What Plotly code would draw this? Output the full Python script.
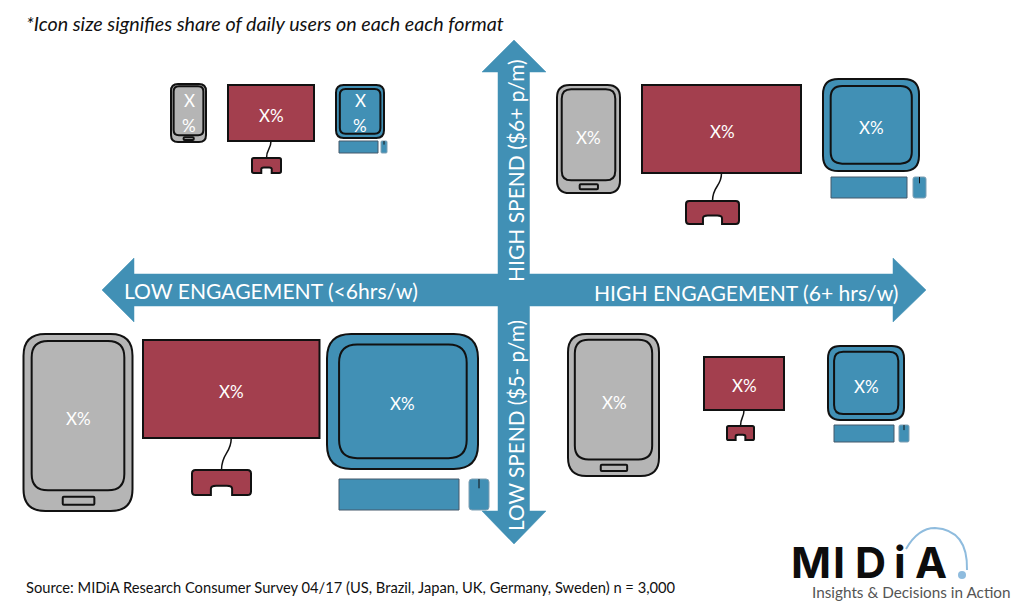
import plotly.graph_objects as go

BLUE = '#4190b5'
RED = '#a33f4e'
GREY = '#b5b5b5'
INK = '#111111'
FONT = 'Lato'

title_text = '*Icon size signifies share of daily users on each each format'
source_text = 'Source: MIDiA Research Consumer Survey 04/17 (US, Brazil, Japan, UK, Germany, Sweden) n = 3,000'
tagline = 'Insights & Decisions in Action'
axis_high_engagement = 'HIGH ENGAGEMENT (6+ hrs/w)'
axis_low_engagement = 'LOW ENGAGEMENT (<6hrs/w)'
axis_high_spend = 'HIGH SPEND ($6+ p/m)'
axis_low_spend = 'LOW SPEND ($5- p/m)'

# icon boxes, page pixels: x0, y0, x1, y1
phones = [(171, 84, 206, 142), (557, 85, 620, 193), (23.5, 334, 132.5, 511), (568, 334, 659, 476)]
tvs = [
    ((228, 85, 314, 141), (252, 158, 281, 173)),
    ((642, 85, 801, 173), (686, 201, 739, 224)),
    ((143, 340, 319.5, 438), (192, 470, 251, 495)),
    ((704, 357, 784, 410), (727, 426, 754, 440)),
]
desktops = [
    ((336, 85, 384, 138), (339, 141, 378, 153), (381, 141, 387, 153)),
    ((823, 79, 919, 171), (831, 177, 907, 198), (913, 177, 926, 198)),
    ((327, 334, 478, 469), (339, 479, 459, 510), (469, 479, 489, 510)),
    ((828, 346, 904, 420), (834, 425, 894, 442), (899, 425, 909, 442)),
]

# X% labels: x, y, text
labels = [
    (189, 100, 'X'), (189, 125, '%'), (271, 115, 'X%'), (360, 100, 'X'), (360, 125, '%'),
    (588, 137, 'X%'), (722, 131, 'X%'), (871, 127, 'X%'),
    (78, 418, 'X%'), (231, 391, 'X%'), (402, 403, 'X%'),
    (614, 402, 'X%'), (744, 385, 'X%'), (866, 386, 'X%'),
]

logo_letters = [('M', 811), ('I', 838.5), ('D', 870), ('i', 899.5), ('A', 931)]

shapes = []


def add_path(path, fill=None, color=INK, width=2):
    shapes.append(dict(type='path', path=path, fillcolor=fill or 'rgba(0,0,0,0)',
                       line=dict(color=color, width=width), layer='above'))


def round_rect(x0, y0, x1, y1, r):
    return (f'M{x0 + r},{y0} L{x1 - r},{y0} Q{x1},{y0} {x1},{y0 + r} L{x1},{y1 - r} '
            f'Q{x1},{y1} {x1 - r},{y1} L{x0 + r},{y1} Q{x0},{y1} {x0},{y1 - r} '
            f'L{x0},{y0 + r} Q{x0},{y0} {x0 + r},{y0} Z')


def draw_phone(box):
    x0, y0, x1, y1 = box
    w, h = x1 - x0, y1 - y0
    add_path(round_rect(x0, y0, x1, y1, w * 0.2), GREY)
    add_path(round_rect(x0 + w * 0.075, y0 + h * 0.04, x1 - w * 0.075, y1 - h * 0.117, w * 0.15), GREY)
    add_path(round_rect(x0 + w * 0.36, y0 + h * 0.92, x0 + w * 0.65, y0 + h * 0.965, 1), GREY)


def draw_tv(screen, stand):
    x0, y0, x1, y1 = screen
    sx0, sy0, sx1, sy1 = stand
    add_path(f'M{x0},{y0} L{x1},{y0} L{x1},{y1} L{x0},{y1} Z', RED)
    # cable from screen to stand
    cx = (x0 + x1) / 2
    sw = sx1 - sx0
    sh = sy1 - sy0
    mid = (sx0 + sx1) / 2
    gap = sy0 - y1
    add_path(f'M{cx},{y1} C{cx},{y1 + gap * 0.5} {mid},{y1 + gap * 0.45} {mid},{sy0}', width=1.5)
    # stand with the notch cut out of its bottom edge
    r = sw * 0.06
    nx0, nx1 = sx0 + sw * 0.32, sx0 + sw * 0.68
    ny = sy0 + sh * 0.63
    nr = sw * 0.09
    add_path(f'M{sx0 + r},{sy0} L{sx1 - r},{sy0} Q{sx1},{sy0} {sx1},{sy0 + r} L{sx1},{sy1 - r} '
             f'Q{sx1},{sy1} {sx1 - r},{sy1} L{nx1},{sy1} L{nx1},{ny + nr * 0.6} Q{nx1},{ny} {nx1 - nr},{ny} '
             f'L{nx0 + nr},{ny} Q{nx0},{ny} {nx0},{ny + nr * 0.6} L{nx0},{sy1} L{sx0 + r},{sy1} '
             f'Q{sx0},{sy1} {sx0},{sy1 - r} L{sx0},{sy0 + r} Q{sx0},{sy0} {sx0 + r},{sy0} Z', RED)


def draw_desktop(outer, keyboard, mouse):
    x0, y0, x1, y1 = outer
    w, h = x1 - x0, y1 - y0
    add_path(round_rect(x0, y0, x1, y1, w * 0.16), BLUE)
    add_path(round_rect(x0 + w * 0.08, y0 + h * 0.077, x1 - w * 0.075, y1 - h * 0.08, w * 0.12), BLUE)
    kx0, ky0, kx1, ky1 = keyboard
    add_path(f'M{kx0},{ky0} L{kx1},{ky0} L{kx1},{ky1} L{kx0},{ky1} Z', BLUE, color='#44596a', width=1)
    mx0, my0, mx1, my1 = mouse
    add_path(round_rect(mx0, my0, mx1, my1, (mx1 - mx0) * 0.15), BLUE, color='#7f9fb3', width=1)
    mc = (mx0 + mx1) / 2
    add_path(f'M{mc},{my0} L{mc},{my0 + (my1 - my0) * 0.3}', width=1)


for box in phones:
    draw_phone(box)
for screen, stand in tvs:
    draw_tv(screen, stand)
for outer, keyboard, mouse in desktops:
    draw_desktop(outer, keyboard, mouse)

# the cross of arrows
add_path('M514,40 L546,72 L529.5,72 L529.5,274 L893,274 L893,258 L926,290 L893,322 L893,306 '
         'L529.5,306 L529.5,511 L546,511 L514,544 L482,511 L498,511 L498,306 L134,306 L134,322 '
         'L102,290 L134,258 L134,274 L498,274 L498,72 L482,72 Z', BLUE, color=BLUE, width=0.5)

# logo arc and dot
add_path('M906,549 Q918,528 935,528 Q968,530 967,570', color='#8fbcde', width=2)
shapes.append(dict(type='circle', x0=958, y0=571, x1=966, y1=579,
                   fillcolor='#8fbcde', line=dict(width=0), layer='above'))

annotations = []


def add_text(x, y, text, size, color='white', anchor='center', angle=0, family=FONT):
    annotations.append(dict(x=x, y=y, text=text, showarrow=False, xanchor=anchor, yanchor='middle',
                            textangle=angle, font=dict(family=family, size=size, color=color)))


for x, y, text in labels:
    add_text(x, y, text, 17)

add_text(24, 23, f'<i>{title_text}</i>', 19.7, INK, 'left')
add_text(24, 587, source_text, 14.7, INK, 'left')
add_text(122, 290, axis_low_engagement, 21.1, anchor='left')
add_text(592, 292, axis_high_engagement, 21.1, anchor='left')
add_text(515, 171, axis_high_spend, 21, angle=-90)
add_text(515, 426, axis_low_spend, 20.8, angle=-90)
for letter, x in logo_letters:
    add_text(x, 562, f'<b>{letter}</b>', 43, '#0d0d0d', family='Inter')
add_text(810, 592, tagline, 15.3, '#555555', 'left')

fig = go.Figure()
fig.update_layout(
    width=1024, height=605,
    margin=dict(l=0, r=0, t=0, b=0),
    paper_bgcolor='white', plot_bgcolor='white',
    xaxis=dict(range=[0, 1024], visible=False, fixedrange=True),
    yaxis=dict(range=[605, 0], visible=False, fixedrange=True),
    shapes=shapes, annotations=annotations,
    showlegend=False,
)
fig.write_html('out.html', config={'displayModeBar': False},
               post_script="document.body.style.margin='0';")
